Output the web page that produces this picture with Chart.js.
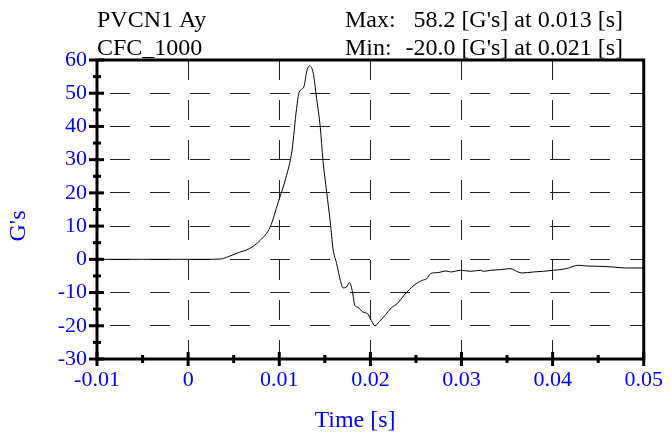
<!DOCTYPE html>
<html><head><meta charset="utf-8">
<script src="https://cdn.jsdelivr.net/npm/chart.js@4/dist/chart.umd.min.js"></script>
<style>html,body{margin:0;padding:0;background:#fff;overflow:hidden}#wrap{width:671px;height:437px;position:relative}</style>
</head><body><div id="wrap"><canvas id="c" width="671" height="437"></canvas></div>
<script>
const timeS = [-0.01, -0.005, 0, 0.002, 0.0035, 0.0039, 0.0045, 0.0055, 0.0067, 0.0079,
  0.009, 0.0099, 0.0107, 0.0114, 0.0119, 0.0122, 0.0127, 0.013, 0.0133, 0.0137,
  0.0141, 0.0145, 0.0148, 0.0152, 0.0156, 0.0159, 0.0163, 0.0167, 0.017, 0.0174,
  0.0177, 0.018, 0.0183, 0.0186, 0.0192, 0.0197, 0.0201, 0.0205, 0.021, 0.0216,
  0.0223, 0.023, 0.0237, 0.0248, 0.0257, 0.0262, 0.0266, 0.0274, 0.0283, 0.0288,
  0.0299, 0.031, 0.0321, 0.0324, 0.0332, 0.0343, 0.0353, 0.0366, 0.0379, 0.039,
  0.0401, 0.0415, 0.0428, 0.0437, 0.0451, 0.0466, 0.048, 0.05];
const accelG = [0, 0, 0, 0, 0.1, 0.3, 0.9, 2.0, 3.2, 5.7,
  9.7, 17.3, 24.3, 32.8, 45.4, 50.4, 51.9, 56.4, 58.2, 56.4,
  48.4, 39.8, 29.8, 20.3, 11.2, 3.2, -1.3, -6.3, -8.6, -8.3,
  -7.0, -9.3, -13.9, -14.4, -15.9, -16.4, -18.4, -20.0, -18.7, -16.9,
  -14.6, -13.2, -10.8, -7.8, -6.3, -5.8, -4.3, -4.0, -3.5, -3.8,
  -3.3, -3.6, -3.3, -3.6, -3.3, -3.1, -2.8, -4.1, -3.8, -3.6,
  -3.3, -2.8, -1.8, -2.0, -2.1, -2.3, -2.6, -2.6];
const xTickValues = [-0.01, 0, 0.01, 0.02, 0.03, 0.04, 0.05];
const xTickLabels = ["-0.01", "0", "0.01", "0.02", "0.03", "0.04", "0.05"];
const yTickValues = [-30, -20, -10, 0, 10, 20, 30, 40, 50, 60];
const yTickLabels = ["-30", "-20", "-10", "0", "10", "20", "30", "40", "50", "60"];
const headerLeft = ["PVCN1 Ay", "CFC_1000"];
const headerStatNames = ["Max:", "Min:"];
const headerStatValues = ["58.2 [G's] at 0.013 [s]", "-20.0 [G's] at 0.021 [s]"];
const xTitle = "Time [s]";
const yTitle = "G's";

const BLUE = '#0000ff';
const SERIF = '"Liberation Serif", "Times New Roman", serif';

const decor = {
  id: 'decor',
  afterDraw(chart) {
    const {ctx, chartArea: a, scales: {x, y}} = chart;
    ctx.save();
    ctx.strokeStyle = '#000';
    ctx.lineWidth = 3;
    ctx.strokeRect(a.left, a.top, a.right - a.left, a.bottom - a.top);
    const seg = (x1, y1, x2, y2) => { ctx.beginPath(); ctx.moveTo(x1, y1); ctx.lineTo(x2, y2); ctx.stroke(); };
    yTickValues.forEach((v, i) => {
      const p = y.getPixelForValue(v);
      seg(a.left - 8, p, a.left + 7, p);
      if (i < yTickValues.length - 1) {
        const pm = y.getPixelForValue((v + yTickValues[i + 1]) / 2);
        seg(a.left - 4, pm, a.left + 4, pm);
      }
    });
    xTickValues.forEach((v, i) => {
      const p = x.getPixelForValue(v);
      seg(p, a.bottom - 7, p, a.bottom + 7);
      if (i < xTickValues.length - 1) {
        const pm = x.getPixelForValue((v + xTickValues[i + 1]) / 2);
        seg(pm, a.bottom - 4, pm, a.bottom + 4);
      }
    });
    ctx.fillStyle = '#000';
    ctx.font = '24px ' + SERIF;
    ctx.textBaseline = 'alphabetic';
    ctx.textAlign = 'left';
    ctx.fillText(headerLeft[0], 97, 27);
    ctx.fillText(headerLeft[1], 97, 55);
    ctx.fillText(headerStatNames[0], 345, 27);
    ctx.fillText(headerStatNames[1], 345, 55);
    ctx.textAlign = 'right';
    ctx.fillText(headerStatValues[0], 623, 27);
    ctx.fillText(headerStatValues[1], 623, 55);
    ctx.fillStyle = BLUE;
    ctx.textAlign = 'center';
    ctx.fillText(xTitle, 355, 427);
    ctx.translate(25, 226);
    ctx.rotate(-Math.PI / 2);
    ctx.fillText(yTitle, 0, 0);
    ctx.restore();
  }
};

new Chart(document.getElementById('c'), {
  type: 'line',
  data: {
    datasets: [{
      data: timeS.map((t, i) => ({x: t, y: accelG[i]})),
      borderColor: '#000',
      borderWidth: 1,
      pointRadius: 0,
      cubicInterpolationMode: 'monotone',
      fill: false
    }]
  },
  options: {
    responsive: false,
    animation: false,
    devicePixelRatio: 1,
    layout: {padding: {top: 60, right: 23, left: 0, bottom: 0}},
    plugins: {legend: {display: false}, tooltip: {enabled: false}, title: {display: false}},
    scales: {
      x: {
        type: 'linear', min: -0.01, max: 0.05,
        afterBuildTicks: s => { s.ticks = xTickValues.map(v => ({value: v})); },
        afterFit: s => { s.height = 78; },
        ticks: {
          color: BLUE, font: {family: SERIF, size: 22}, padding: 8, maxRotation: 0,
          callback: (v, i) => xTickLabels[i]
        },
        grid: {color: '#222', lineWidth: 1, drawTicks: false},
        border: {display: false, dash: [20, 20], dashOffset: 0}
      },
      y: {
        type: 'linear', min: -30, max: 60,
        afterBuildTicks: s => { s.ticks = yTickValues.map(v => ({value: v})); },
        afterFit: s => { s.width = 97; },
        ticks: {
          color: BLUE, font: {family: SERIF, size: 22}, padding: 10,
          callback: (v, i) => yTickLabels[i]
        },
        grid: {color: '#222', lineWidth: 1, drawTicks: false},
        border: {display: false, dash: [20, 20], dashOffset: 27}
      }
    }
  },
  plugins: [decor]
});
</script>
</body></html>
